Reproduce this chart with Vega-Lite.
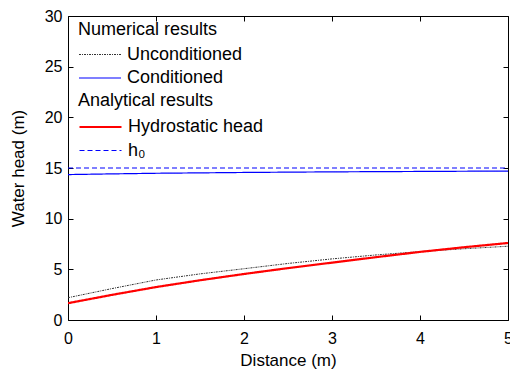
{
  "$schema": "https://vega.github.io/schema/vega-lite/v6.json",
  "width": 440,
  "height": 304,
  "autosize": {"type": "none"},
  "padding": {"left": 68, "top": 16, "right": 2, "bottom": 51},
  "background": "white",
  "config": {
    "font": "Liberation Sans",
    "view": {"stroke": "black", "strokeWidth": 1},
    "axis": {
      "labelFont": "Liberation Sans",
      "titleFont": "Liberation Sans",
      "labelFontSize": 16,
      "titleFontSize": 17,
      "titleFontWeight": "normal",
      "labelColor": "black",
      "titleColor": "black",
      "domain": false,
      "grid": false,
      "tickColor": "black",
      "tickSize": -5,
      "tickWidth": 1
    },
    "legend": {
      "titleFont": "Liberation Sans",
      "labelFont": "Liberation Sans",
      "titleFontSize": 18,
      "labelFontSize": 18,
      "titleFontWeight": "normal",
      "titleColor": "black",
      "labelColor": "black",
      "symbolType": "M-1,0H3",
      "symbolSize": 441,
      "labelOffset": 26,
      "rowPadding": 3,
      "titlePadding": 5,
      "padding": 0,
      "orient": "none"
    }
  },
  "data": {
    "values": [
      {"x": 0, "y": 2.2, "series": "Unconditioned"},
      {"x": 0.5, "y": 3.1, "series": "Unconditioned"},
      {"x": 1, "y": 3.95, "series": "Unconditioned"},
      {"x": 1.5, "y": 4.55, "series": "Unconditioned"},
      {"x": 2, "y": 5.06, "series": "Unconditioned"},
      {"x": 2.5, "y": 5.58, "series": "Unconditioned"},
      {"x": 3, "y": 6.03, "series": "Unconditioned"},
      {"x": 3.5, "y": 6.42, "series": "Unconditioned"},
      {"x": 4, "y": 6.75, "series": "Unconditioned"},
      {"x": 4.5, "y": 7.03, "series": "Unconditioned"},
      {"x": 5, "y": 7.28, "series": "Unconditioned"},
      {"x": 0, "y": 14.35, "series": "Conditioned"},
      {"x": 0.5, "y": 14.42, "series": "Conditioned"},
      {"x": 1, "y": 14.48, "series": "Conditioned"},
      {"x": 2, "y": 14.56, "series": "Conditioned"},
      {"x": 3, "y": 14.62, "series": "Conditioned"},
      {"x": 4, "y": 14.66, "series": "Conditioned"},
      {"x": 5, "y": 14.7, "series": "Conditioned"},
      {"x": 0, "y": 1.66, "series": "Hydrostatic head"},
      {"x": 0.5, "y": 2.48, "series": "Hydrostatic head"},
      {"x": 1, "y": 3.25, "series": "Hydrostatic head"},
      {"x": 1.5, "y": 3.92, "series": "Hydrostatic head"},
      {"x": 2, "y": 4.54, "series": "Hydrostatic head"},
      {"x": 2.5, "y": 5.12, "series": "Hydrostatic head"},
      {"x": 3, "y": 5.66, "series": "Hydrostatic head"},
      {"x": 3.5, "y": 6.2, "series": "Hydrostatic head"},
      {"x": 4, "y": 6.72, "series": "Hydrostatic head"},
      {"x": 4.5, "y": 7.18, "series": "Hydrostatic head"},
      {"x": 5, "y": 7.6, "series": "Hydrostatic head"},
      {"x": 0, "y": 15, "series": "h₀"},
      {"x": 5, "y": 15, "series": "h₀"}
    ]
  },
  "layer": [
    {
      "transform": [{"filter": "datum.series == 'Unconditioned' || datum.series == 'Conditioned'"}],
      "mark": {"type": "line", "clip": true},
      "encoding": {
        "x": {"field": "x", "type": "quantitative", "scale": {"domain": [0, 5], "nice": false},
          "axis": {"title": "Distance (m)", "values": [0, 1, 2, 3, 4, 5], "labelPadding": 15, "titlePadding": 6, "labelFlush": false}},
        "y": {"field": "y", "type": "quantitative", "scale": {"domain": [0, 30], "nice": false},
          "axis": {"title": "Water head (m)", "values": [0, 5, 10, 15, 20, 25, 30], "labelPadding": 11, "titlePadding": 17}},
        "color": {"field": "series", "type": "nominal",
          "scale": {"domain": ["Unconditioned", "Conditioned"], "range": ["#333333", "#0000ff"]},
          "legend": {"title": "Numerical results", "legendX": 10, "legendY": 4.5,
            "encoding": {"symbols": {"update": {
              "stroke": {"condition": {"test": "datum.value == 'Conditioned'", "value": "#0000ff"}, "value": "#333333"},
              "strokeDash": {"condition": {"test": "datum.value == 'Unconditioned'", "value": [2, 1, 1, 1]}, "value": [1, 0]},
              "strokeWidth": {"value": 1.2}
            }}}}},
        "strokeDash": {"field": "series", "type": "nominal",
          "scale": {"domain": ["Unconditioned", "Conditioned"], "range": [[2, 1, 1, 1], [1, 0]]},
          "legend": null},
        "strokeWidth": {"field": "series", "type": "nominal",
          "scale": {"domain": ["Unconditioned", "Conditioned"], "range": [1, 1.2]},
          "legend": null},
        "order": {"field": "x", "type": "quantitative"}
      }
    },
    {
      "transform": [{"filter": "datum.series == 'Hydrostatic head' || datum.series == 'h₀'"}],
      "mark": {"type": "line", "clip": true},
      "encoding": {
        "x": {"field": "x", "type": "quantitative", "scale": {"domain": [0, 5], "nice": false},
          "axis": {"orient": "top", "title": null, "labels": false, "values": [0, 1, 2, 3, 4, 5]}},
        "y": {"field": "y", "type": "quantitative", "scale": {"domain": [0, 30], "nice": false},
          "axis": {"orient": "right", "title": null, "labels": false, "values": [0, 5, 10, 15, 20, 25, 30]}},
        "color": {"field": "series", "type": "nominal",
          "scale": {"domain": ["Hydrostatic head", "h₀"], "range": ["#ff0000", "#0000ff"]},
          "legend": {"title": "Analytical results", "legendX": 10, "legendY": 76,
            "encoding": {
              "symbols": {"update": {
                "stroke": {"condition": {"test": "datum.value == 'Hydrostatic head'", "value": "#ff0000"}, "value": "#0000ff"},
                "strokeDash": {"condition": {"test": "datum.value == 'h₀'", "value": [5, 3]}, "value": [1, 0]},
                "strokeWidth": {"condition": {"test": "datum.value == 'Hydrostatic head'", "value": 2.2}, "value": 1.2}
              }},
              "labels": {"update": {
                "fontStyle": {"condition": {"test": "datum.value == 'h₀'", "value": "italic"}, "value": "normal"}
              }}
            }}},
        "strokeDash": {"field": "series", "type": "nominal",
          "scale": {"domain": ["Hydrostatic head", "h₀"], "range": [[1, 0], [5, 3]]},
          "legend": null},
        "strokeWidth": {"field": "series", "type": "nominal",
          "scale": {"domain": ["Hydrostatic head", "h₀"], "range": [2.2, 1.2]},
          "legend": null},
        "order": {"field": "x", "type": "quantitative"}
      }
    }
  ],
  "resolve": {
    "scale": {"color": "independent", "strokeDash": "independent", "strokeWidth": "independent"},
    "axis": {"x": "independent", "y": "independent"},
    "legend": {"color": "independent"}
  }
}
